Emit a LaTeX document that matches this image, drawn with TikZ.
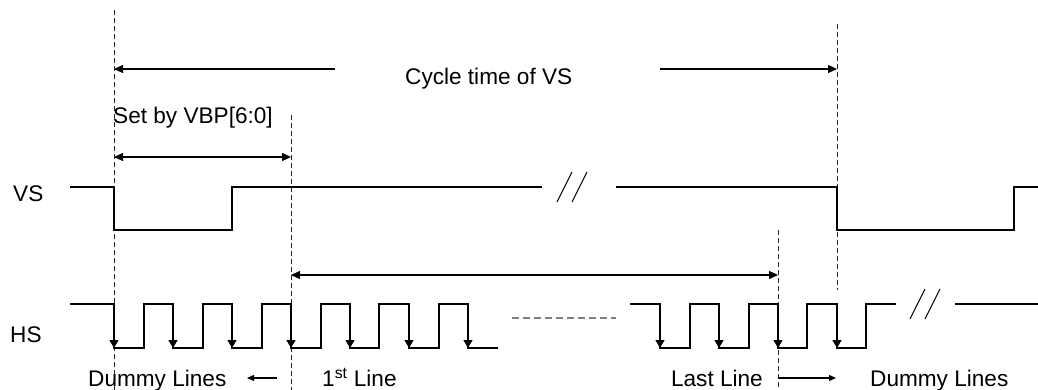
\documentclass[tikz,border=0pt]{standalone}
\usepackage{fontspec}
\setmainfont{Liberation Sans}
\usetikzlibrary{arrows.meta}
\tikzset{
  dimtip/.tip={Triangle[length=9pt,width=8pt]},
  smtip/.tip={Triangle[length=7pt,width=6pt]},
  falltip/.tip={Triangle[length=8pt,width=9pt]}}
\begin{document}
\begin{tikzpicture}[x=1pt,y=-1pt,
  wave/.style={line width=1.3pt, line join=miter},
  guide/.style={line width=0.9pt, dash pattern=on 5pt off 3pt, black!85},
  fallarrow/.style={line width=1.3pt, -falltip},
  dimarrow/.style={line width=1.1pt},
  lbl/.style={inner sep=0pt, font=\fontsize{22.6}{26}\selectfont}]
\useasboundingbox[fill=white] (0,0) rectangle (1038,390);

% guide coordinates
\coordinate (g1t) at (114,10);   \coordinate (g1b) at (114,390);
\coordinate (g2t) at (291,115);  \coordinate (g2b) at (291,390);
\coordinate (g3t) at (778,230);  \coordinate (g3b) at (778,390);
\coordinate (g4t) at (837,24);   \coordinate (g4b) at (837,290);

% dashed guides
\draw[guide] (g1t) -- (g1b);
\draw[guide] (g2t) -- (g2b);
\draw[guide] (g3t) -- (g3b);
\draw[guide] (g4t) -- (g4b);

% labels
\node[lbl, anchor=base west] (cyc) at (405,85) {Cycle time of VS};
\node[lbl, anchor=base west] (vbp) at (113,124) {Set by VBP[6:0]};
\node[lbl, anchor=base west] (vs) at (13,201) {VS};
\node[lbl, anchor=base west] (hs) at (10,342) {HS};
\node[lbl, anchor=base west] (dl1) at (88,386) {Dummy Lines};
\node[lbl, anchor=base west] (first) at (322,386) {1\textsuperscript{st} Line};
\node[lbl, anchor=base east] (last) at (763,386) {Last Line};
\node[lbl, anchor=base west] (dl2) at (870,386) {Dummy Lines};

% dimension arrows
\coordinate (c1a) at (335,69); \coordinate (c1b) at (114,69);
\coordinate (c2a) at (660,69); \coordinate (c2b) at (837,69);
\draw[dimarrow, -dimtip] (c1a) -- (c1b);
\draw[dimarrow, -dimtip] (c2a) -- (c2b);
\coordinate (v1) at (114,157); \coordinate (v2) at (291,157);
\draw[dimarrow, dimtip-dimtip] (v1) -- (v2);
\coordinate (l1) at (291,275); \coordinate (l2) at (778,275);
\draw[dimarrow, dimtip-dimtip] (l1) -- (l2);
\coordinate (b1a) at (277,378); \coordinate (b1b) at (247,378);
\draw[dimarrow, -smtip] (b1a) -- (b1b);
\coordinate (b2a) at (778,378); \coordinate (b2b) at (836,378);
\draw[dimarrow, -smtip] (b2a) -- (b2b);

% VS waveform
\draw[wave] (70,187) -- (114,187) -- (114,230) -- (232,230) -- (232,187) -- (542,187);
\draw[wave] (616,187) -- (837,187) -- (837,230) -- (1014,230) -- (1014,187) -- (1040,187);
\draw[line width=1pt] (557,202) -- (572,172) (572,202) -- (587,172);

% HS waveform
\draw[wave] (70,304) -- (114,304) -- (114,348) -- (144,348) -- (144,304)
  -- (173,304) -- (173,348) -- (203,348) -- (203,304)
  -- (232,304) -- (232,348) -- (262,348) -- (262,304)
  -- (291,304) -- (291,348) -- (321,348) -- (321,304)
  -- (350,304) -- (350,348) -- (379,348) -- (379,304)
  -- (409,304) -- (409,348) -- (439,348) -- (439,304)
  -- (468,304) -- (468,348) -- (498,348);
\draw[wave] (630,304) -- (660,304) -- (660,348) -- (690,348) -- (690,304)
  -- (719,304) -- (719,348) -- (749,348) -- (749,304)
  -- (778,304) -- (778,348) -- (807,348) -- (807,304)
  -- (837,304) -- (837,348) -- (866,348) -- (866,304) -- (896,304);
\draw[wave] (955,304) -- (1040,304);
\draw[line width=1pt] (910,319) -- (925,289) (925,319) -- (940,289);
\draw[line width=1.2pt, gray, dash pattern=on 7pt off 4pt] (512,318) -- (616,318);

% falling-edge arrows
\foreach \x in {114,173,232,291,350,409,468,660,719,778,837}
  \draw[fallarrow] (\x,304) -- (\x,348);
\end{tikzpicture}
\end{document}
